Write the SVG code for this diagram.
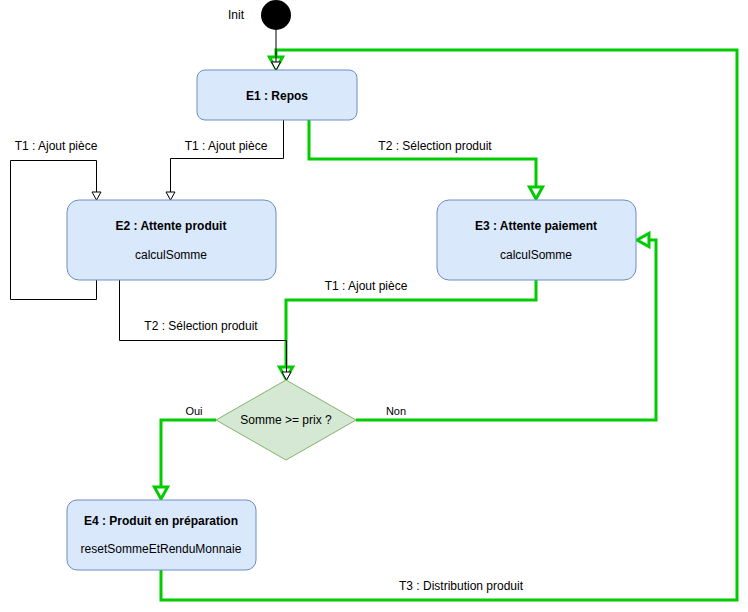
<svg xmlns="http://www.w3.org/2000/svg" width="748" height="612" viewBox="0 0 748 612">
<style>
text{font-family:"Liberation Sans",Arial,sans-serif;font-size:12px;fill:#000;text-anchor:middle}
.b{font-weight:bold}
.s{font-size:11px}
.n{fill:#dae8fc;stroke:#6c8ebf;stroke-width:1}
.g{fill:none;stroke:#00cc00;stroke-width:3}
.k{fill:none;stroke:#000;stroke-width:1}
</style>
<defs>
<marker id="ag" markerUnits="userSpaceOnUse" markerWidth="24" markerHeight="24" viewBox="-4 -10 20 20" refX="10" refY="0" orient="auto"><path d="M0,-5.5 L10,0 L0,5.5 Z" fill="#fff" stroke="#00cc00" stroke-width="2.5"/></marker>
<marker id="ak" markerUnits="userSpaceOnUse" markerWidth="16" markerHeight="16" viewBox="-2 -8 14 16" refX="8" refY="0" orient="auto"><path d="M0,-4.5 L8,0 L0,4.5 Z" fill="#fff" stroke="#000" stroke-width="1"/></marker>
</defs>
<g id="connectors">
<path class="g" d="M161,570 V600 H737 V50 H276 V69" marker-end="url(#ag)"/>
<path class="k" d="M276,30 V70" marker-end="url(#ak)"/>
<path class="k" d="M283.5,120 V158.5 H170.5 V200" marker-end="url(#ak)"/>
<path class="g" d="M309,120 V159 H536 V199" marker-end="url(#ag)"/>
<path class="k" d="M96.5,280 V299.5 H10.5 V160.5 H96.5 V200" marker-end="url(#ak)"/>
<path class="g" d="M536,280 V300 H286 V379" marker-end="url(#ag)"/>
<path class="k" d="M119.5,280 V340.5 H286.5 V380" marker-end="url(#ak)"/>
<path class="g" d="M356,420 H656 V240 H637" marker-end="url(#ag)"/>
<path class="g" d="M216,420 H161 V499" marker-end="url(#ag)"/>
<text x="226" y="150">T1 : Ajout pièce</text>
<text x="56" y="150">T1 : Ajout pièce</text>
<text x="435" y="150">T2 : Sélection produit</text>
<text x="366" y="290">T1 : Ajout pièce</text>
<text x="201" y="330">T2 : Sélection produit</text>
<text class="s" x="194" y="415">Oui</text>
<text class="s" x="396" y="415">Non</text>
<text x="461" y="590">T3 : Distribution produit</text>
</g>
<g id="init">
<circle cx="276" cy="15" r="15" fill="#000"/>
<text x="236" y="19">Init</text>
</g>
<g id="E1">
<rect class="n" x="197" y="70" width="160" height="50" rx="8"/>
<text class="b" x="277" y="100">E1 : Repos</text>
</g>
<g id="E2">
<rect class="n" x="67" y="200" width="209" height="80" rx="12"/>
<text class="b" x="171" y="230">E2 : Attente produit</text>
<text x="171" y="259">calculSomme</text>
</g>
<g id="E3">
<rect class="n" x="437" y="200" width="199" height="80" rx="12"/>
<text class="b" x="536" y="230">E3 : Attente paiement</text>
<text x="536" y="259">calculSomme</text>
</g>
<g id="decision">
<path d="M286,380 L356,420 L286,460 L216,420 Z" fill="#d5e8d4" stroke="#82b366"/>
<text x="286" y="424">Somme &gt;= prix ?</text>
</g>
<g id="E4">
<rect class="n" x="67" y="500" width="189" height="70" rx="10"/>
<text class="b" x="161" y="525">E4 : Produit en préparation</text>
<text x="161" y="553">resetSommeEtRenduMonnaie</text>
</g>
</svg>
